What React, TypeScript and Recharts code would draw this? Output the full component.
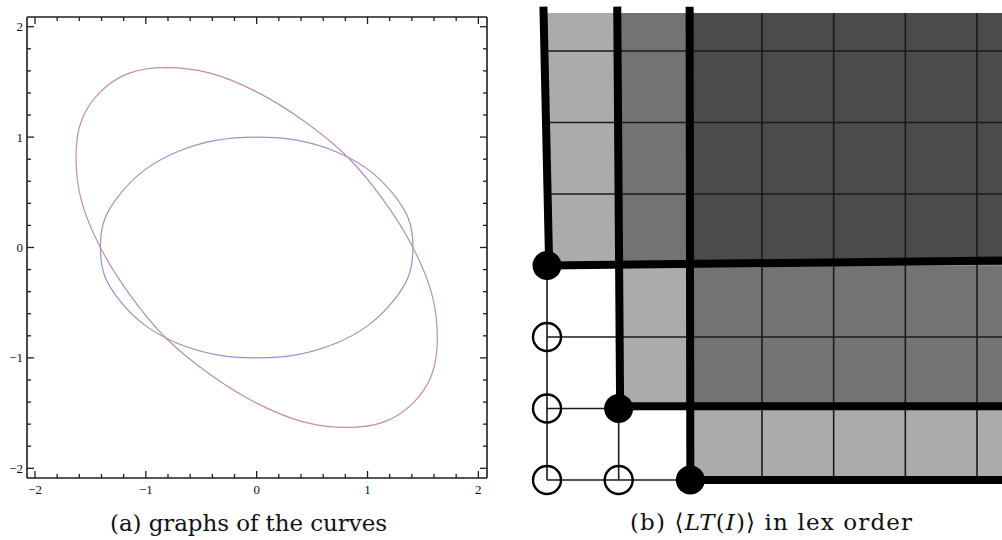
import React from "react";
import {
  LineChart,
  Line,
  XAxis,
  YAxis,
  ComposedChart,
  Scatter,
  ReferenceArea,
  ReferenceLine,
} from "recharts";

// ---- panel (a): two ellipses ----
const blueX = [0, -0.37, -0.71, -1.0, -1.22, -1.37, -1.41, -1.37, -1.22, -1.0, -0.71, -0.37, 0, 0.37, 0.71, 1.0, 1.22, 1.37, 1.41, 1.37, 1.22, 1.0, 0.71, 0.37, 0];
const blueY = [1, 0.97, 0.87, 0.71, 0.5, 0.26, 0, -0.26, -0.5, -0.71, -0.87, -0.97, -1, -0.97, -0.87, -0.71, -0.5, -0.26, 0, 0.26, 0.5, 0.71, 0.87, 0.97, 1];
const redX = [0.82, 0.42, 0, -0.42, -0.82, -1.15, -1.41, -1.58, -1.63, -1.58, -1.41, -1.15, -0.82, -0.42, 0, 0.42, 0.82, 1.15, 1.41, 1.58, 1.63, 1.58, 1.41, 1.15, 0.82];
const redY = [0.82, 1.15, 1.41, 1.58, 1.63, 1.58, 1.41, 1.15, 0.82, 0.42, 0, -0.42, -0.82, -1.15, -1.41, -1.58, -1.63, -1.58, -1.41, -1.15, -0.82, -0.42, 0, 0.42, 0.82];

const TICKS = [-2, -1.8, -1.6, -1.4, -1.2, -1, -0.8, -0.6, -0.4, -0.2, 0, 0.2, 0.4, 0.6, 0.8, 1, 1.2, 1.4, 1.6, 1.8, 2];
const MAJOR_VALUES = [-2, -1, 0, 1, 2];
const MAJOR_LABELS = ["\u22122", "\u22121", "0", "1", "2"];

const X_DOMAIN = [-2.072, 2.078];
const Y_DOMAIN = [-2.088, 2.088];

// ---- panel (b): lattice of monomials ----
const GENERATORS = [
  { x: 0, y: 3 },
  { x: 1, y: 1 },
  { x: 2, y: 0 },
];
const STANDARD = [
  { x: 0, y: 0 },
  { x: 0, y: 1 },
  { x: 0, y: 2 },
  { x: 1, y: 0 },
];
const B_X_DOMAIN = [-0.656, 6.349];
const B_Y_DOMAIN = [-0.28, 6.713];
const RIGHT = 6.349;
const TOP = 6.53;
const LINE_TOP = 6.62;

// level = number of generators dividing the monomials of the block
const SHADE = [
  { x1: 0, x2: 1, y1: 3, y2: TOP, level: 1 },
  { x1: 1, x2: 2, y1: 3, y2: TOP, level: 2 },
  { x1: 2, x2: RIGHT, y1: 3, y2: TOP, level: 3 },
  { x1: 1, x2: 2, y1: 1, y2: 3, level: 1 },
  { x1: 2, x2: RIGHT, y1: 1, y2: 3, level: 2 },
  { x1: 2, x2: RIGHT, y1: 0, y2: 1, level: 1 },
];
const THIN_V = [
  { x: 0, y1: 0, y2: 3 },
  { x: 1, y1: 0, y2: 1 },
  { x: 3, y1: 0, y2: TOP },
  { x: 4, y1: 0, y2: TOP },
  { x: 5, y1: 0, y2: TOP },
  { x: 6, y1: 0, y2: TOP },
];
const THIN_H = [
  { y: 0, x1: 0, x2: 2 },
  { y: 1, x1: 0, x2: 1 },
  { y: 2, x1: 0, x2: RIGHT },
  { y: 4, x1: 0, x2: RIGHT },
  { y: 5, x1: 0, x2: RIGHT },
  { y: 6, x1: 0, x2: RIGHT },
];
const THICK = [
  [{ x: 0.03, y: 3 }, { x: -0.05, y: LINE_TOP }],
  [{ x: 0.03, y: 3 }, { x: RIGHT, y: 3.07 }],
  [{ x: 1.02, y: 1.03 }, { x: 0.98, y: LINE_TOP }],
  [{ x: 1.02, y: 1.03 }, { x: RIGHT, y: 1.03 }],
  [{ x: 2.0, y: 0 }, { x: 1.99, y: LINE_TOP }],
  [{ x: 2.0, y: 0 }, { x: RIGHT, y: 0 }],
];

const GRAYS: Record<number, string> = { 1: "#ababab", 2: "#737373", 3: "#4b4b4b" };

const blueData = blueX.map((x, i) => ({ x, y: blueY[i] }));
const redData = redX.map((x, i) => ({ x, y: redY[i] }));

const FRAME = "#1e1e1e";
const LABEL_FONT = "'Liberation Serif', 'Times New Roman', serif";

// closed Catmull-Rom curve, so the traced ellipses close without a seam
const closedCurve = (context: any) => {
  let pts: number[][] = [];
  return {
    areaStart() {},
    areaEnd() {},
    lineStart() {
      pts = [];
    },
    point(x: number, y: number) {
      pts.push([x, y]);
    },
    lineEnd() {
      let p = pts;
      const last = p[p.length - 1];
      if (p.length > 1 && Math.abs(p[0][0] - last[0]) < 1e-6 && Math.abs(p[0][1] - last[1]) < 1e-6) {
        p = p.slice(0, -1);
      }
      const n = p.length;
      if (!n) return;
      context.moveTo(p[0][0], p[0][1]);
      for (let i = 0; i < n; i++) {
        const p0 = p[(i - 1 + n) % n];
        const p1 = p[i];
        const p2 = p[(i + 1) % n];
        const p3 = p[(i + 2) % n];
        context.bezierCurveTo(
          p1[0] + (p2[0] - p0[0]) / 6,
          p1[1] + (p2[1] - p0[1]) / 6,
          p2[0] - (p3[0] - p1[0]) / 6,
          p2[1] - (p3[1] - p1[1]) / 6,
          p2[0],
          p2[1]
        );
      }
      context.closePath();
    },
  };
};

const labelFor = (v: number) => {
  const i = MAJOR_VALUES.findIndex((m) => Math.abs(m - v) < 1e-6);
  return i >= 0 ? MAJOR_LABELS[i] : null;
};

const FrameTick = ({ x, y, payload, side }: any) => {
  const label = labelFor(payload.value);
  const len = label !== null ? 7 : 4;
  let x2 = x;
  let y2 = y;
  if (side === "bottom") y2 = y - len;
  if (side === "top") y2 = y + len;
  if (side === "left") x2 = x + len;
  if (side === "right") x2 = x - len;
  return (
    <g>
      <line x1={x} y1={y} x2={x2} y2={y2} stroke={FRAME} strokeWidth={1.3} />
      {label !== null && side === "bottom" && (
        <text x={x} y={y + 16} textAnchor="middle" fontSize={13} fontFamily={LABEL_FONT} fill="#111">
          {label}
        </text>
      )}
      {label !== null && side === "left" && (
        <text x={x - 4} y={y + 4.5} textAnchor="end" fontSize={13} fontFamily={LABEL_FONT} fill="#111">
          {label}
        </text>
      )}
    </g>
  );
};

const OpenDot = ({ cx, cy }: any) => (
  <circle cx={cx} cy={cy} r={14} fill="none" stroke="#000" strokeWidth={2.4} />
);
const FilledDot = ({ cx, cy }: any) => <circle cx={cx} cy={cy} r={14.5} fill="#000" />;

const axisCommon = {
  type: "number" as const,
  dataKey: "x",
  ticks: TICKS,
  interval: 0 as const,
  tickSize: 0,
  tickMargin: 0,
  tickLine: false,
  axisLine: { stroke: FRAME, strokeWidth: 1.6 },
  allowDataOverflow: true,
};

const CurvesPanel = () => (
  <LineChart width={500} height={500} margin={{ top: 16, right: 12, bottom: 0, left: 0 }}>
    <XAxis {...axisCommon} xAxisId="b" orientation="bottom" height={22} domain={X_DOMAIN}
      tick={(p: any) => <FrameTick {...p} side="bottom" />} />
    <XAxis {...axisCommon} xAxisId="t" orientation="top" height={1} domain={X_DOMAIN}
      tick={(p: any) => <FrameTick {...p} side="top" />} />
    <YAxis {...axisCommon} dataKey="y" yAxisId="l" orientation="left" width={27} domain={Y_DOMAIN}
      tick={(p: any) => <FrameTick {...p} side="left" />} />
    <YAxis {...axisCommon} dataKey="y" yAxisId="r" orientation="right" width={1} domain={Y_DOMAIN}
      tick={(p: any) => <FrameTick {...p} side="right" />} />
    <Line data={blueData} dataKey="y" xAxisId="b" yAxisId="l" type={closedCurve as any} stroke="#9393d2"
      strokeWidth={1.2} dot={false} activeDot={false} isAnimationActive={false} />
    <Line data={redData} dataKey="y" xAxisId="t" yAxisId="r" type={closedCurve as any} stroke="#c48ca6"
      strokeWidth={1.2} dot={false} activeDot={false} isAnimationActive={false} />
  </LineChart>
);

const LatticePanel = () => (
  <ComposedChart width={502} height={500} margin={{ top: 0, right: 0, bottom: 0, left: 0 }}>
    <XAxis type="number" dataKey="x" domain={B_X_DOMAIN} allowDataOverflow hide />
    <YAxis type="number" dataKey="y" domain={B_Y_DOMAIN} allowDataOverflow hide />
    {SHADE.map((r, i) => (
      <ReferenceArea key={`s${i}`} x1={r.x1} x2={r.x2} y1={r.y1} y2={r.y2}
        fill={GRAYS[r.level]} fillOpacity={1} stroke="none" ifOverflow="visible" />
    ))}
    {THIN_V.map((l, i) => (
      <ReferenceLine key={`v${i}`} segment={[{ x: l.x, y: l.y1 }, { x: l.x, y: l.y2 }]}
        stroke="#1a1a1a" strokeWidth={1.6} ifOverflow="visible" />
    ))}
    {THIN_H.map((l, i) => (
      <ReferenceLine key={`h${i}`} segment={[{ x: l.x1, y: l.y }, { x: l.x2, y: l.y }]}
        stroke="#1a1a1a" strokeWidth={1.6} ifOverflow="visible" />
    ))}
    {THICK.map((seg, i) => (
      <ReferenceLine key={`k${i}`} segment={seg} stroke="#000" strokeWidth={8} ifOverflow="visible" />
    ))}
    <Scatter data={STANDARD} shape={OpenDot} isAnimationActive={false} />
    <Scatter data={GENERATORS} shape={FilledDot} isAnimationActive={false} />
  </ComposedChart>
);

const CAPTION_FONT = "'DejaVu Serif', serif";

export default function App() {
  return (
    <div style={{ position: "fixed", left: 0, top: 0, width: 1002, height: 540, background: "#fff", overflow: "hidden" }}>
      <div style={{ position: "absolute", left: 0, top: 0 }}>
        <CurvesPanel />
      </div>
      <div style={{ position: "absolute", left: 500, top: 0 }}>
        <LatticePanel />
      </div>
      <svg width={1002} height={540} style={{ position: "absolute", left: 0, top: 0, pointerEvents: "none" }}>
        <text x={110} y={531} textLength={277} lengthAdjust="spacing" fontSize={23} fontFamily={CAPTION_FONT} fill="#111">
          (a) graphs of the curves
        </text>
        <text x={630} y={530} textLength={282} lengthAdjust="spacing" fontSize={23} fontFamily={CAPTION_FONT} fill="#111">
          (b) {"\u27E8"}
          <tspan fontStyle="italic">LT</tspan>(<tspan fontStyle="italic">I</tspan>){"\u27E9"} in lex order
        </text>
      </svg>
    </div>
  );
}
